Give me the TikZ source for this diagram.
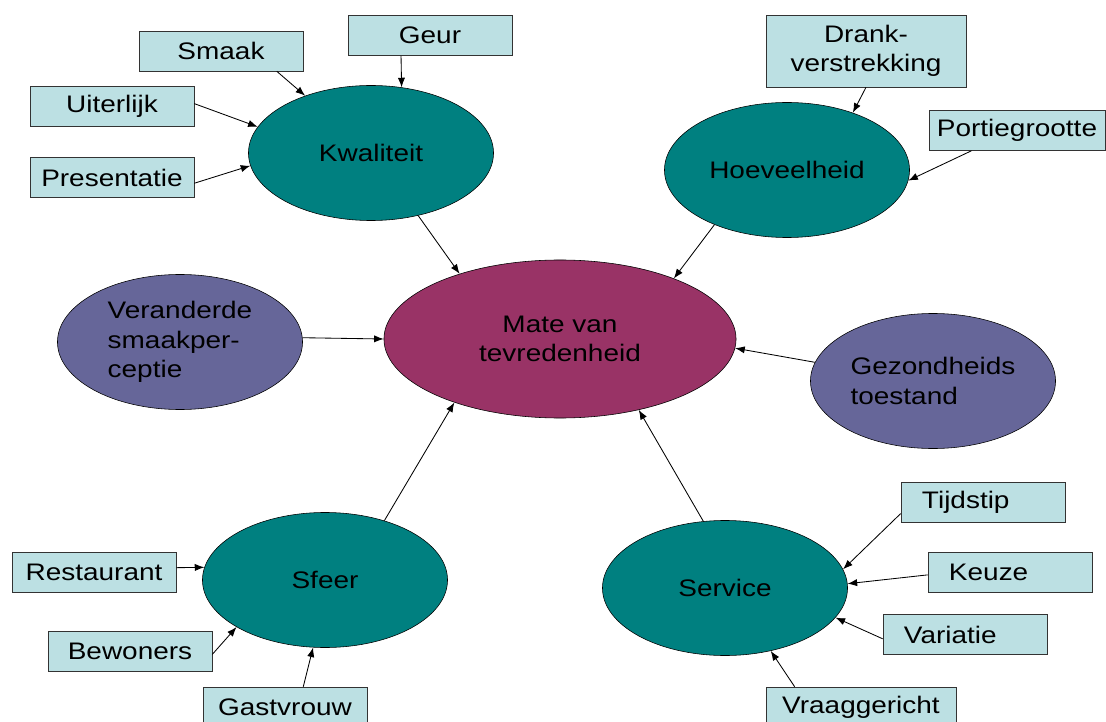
\documentclass[tikz,border=0pt]{standalone}
\usepackage{fontspec}
\setmainfont[FakeStretch=1.17]{Liberation Sans}
\usepackage{tikz}
\usetikzlibrary{shapes.geometric,arrows.meta}
\definecolor{factorfill}{RGB}{0,128,128}
\definecolor{kernfill}{RGB}{153,51,102}
\definecolor{externfill}{RGB}{102,102,153}
\definecolor{aspectfill}{RGB}{188,224,227}

\begin{document}
\begin{tikzpicture}[x=0.025cm,y=-0.025cm,
  every node/.style={font=\fontsize{17}{21}\selectfont,inner sep=0pt},
  factor/.style={ellipse,draw=black,fill=factorfill,minimum width=6.125cm,minimum height=3.375cm},
  extern/.style={factor,fill=externfill,align=left},
  kern/.style={ellipse,draw=black,fill=kernfill,minimum width=8.8cm,minimum height=3.95cm,align=center},
  aspect/.style={draw=black!80,fill=aspectfill,minimum width=4.1cm,minimum height=1cm,align=center},
  aspectlinks/.style={aspect,text width=3.05cm,align=left},
  pijl/.style={-{Latex[length=2.4mm,width=1.8mm]},line width=0.6pt}]%
  \useasboundingbox (0,0) rectangle (1106,722);
  \node[kern] (mate) at (560,339) {Mate van\\tevredenheid};
  \node[factor] (kwal) at (371,153) {Kwaliteit};
  \node[factor] (hoev) at (787,170) {Hoeveelheid};
  \node[factor] (sfeer) at (325,580) {Sfeer};
  \node[factor] (serv) at (725,588) {Service};
  \node[extern] (veran) at (180,342) {Veranderde\\smaakper-\\ceptie};
  \node[extern] (gezond) at (933,381) {Gezondheids\\toestand};
  \node[aspect] (smaak) at (221,51) {Smaak};
  \node[aspect] (geur) at (430,35.5) {Geur};
  \node[aspect] (uiter) at (112,106.5) {Uiterlijk};
  \node[aspect] (pres) at (112,177.5) {Presentatie};
  \node[aspect,minimum width=5cm,minimum height=1.8cm] (drank) at (866,51) {Drank-\\verstrekking};
  \node[aspect,minimum width=4.4cm] (portie) at (1017,130.5) {Portiegrootte};
  \node[aspect] (rest) at (94,572) {Restaurant};
  \node[aspect] (bewo) at (130,651.5) {Bewoners};
  \node[aspect] (gast) at (285,707) {Gastvrouw};
  \node[aspectlinks] (tijd) at (983,502) {Tijdstip};
  \node[aspectlinks] (keuze) at (1010,572) {Keuze};
  \node[aspectlinks] (vari) at (965,634.5) {Variatie};
  \node[aspect,minimum width=4.75cm] (vraag) at (861,707) {Vraaggericht};
  \draw[pijl] (smaak.-20) -- (kwal.139);
  \draw[pijl] (geur.215) -- (kwal.65.5);
  \draw[pijl] (uiter.2) -- (kwal.167.7);
  \draw[pijl] (pres.-4) -- (kwal.186.4);
  \draw[pijl] (drank.south) -- (hoev.41);
  \draw[pijl] (portie.204) -- (hoev.-5.5);
  \draw[pijl] (kwal.-53.7) -- (mate.147.6);
  \draw[pijl] (hoev.217) -- (mate.28.9);
  \draw[pijl] (veran.2) -- (mate.180);
  \draw[pijl] (gezond.171.6) -- (mate.-3);
  \draw[pijl] (sfeer.45) -- (mate.211.9);
  \draw[pijl] (serv.108.4) -- (mate.-42.3);
  \draw[pijl] (rest.3) -- (sfeer.174);
  \draw[pijl] (bewo.-2) -- (sfeer.208.7);
  \draw[pijl] (gast.48) -- (sfeer.260);
  \draw[pijl] (tijd.188) -- (serv.9.6);
  \draw[pijl] (keuze.182.8) -- (serv.2.3);
  \draw[pijl] (vari.183.8) -- (serv.-15.3);
  \draw[pijl] (vraag.163.6) -- (serv.-54.6);
\end{tikzpicture}
\end{document}
